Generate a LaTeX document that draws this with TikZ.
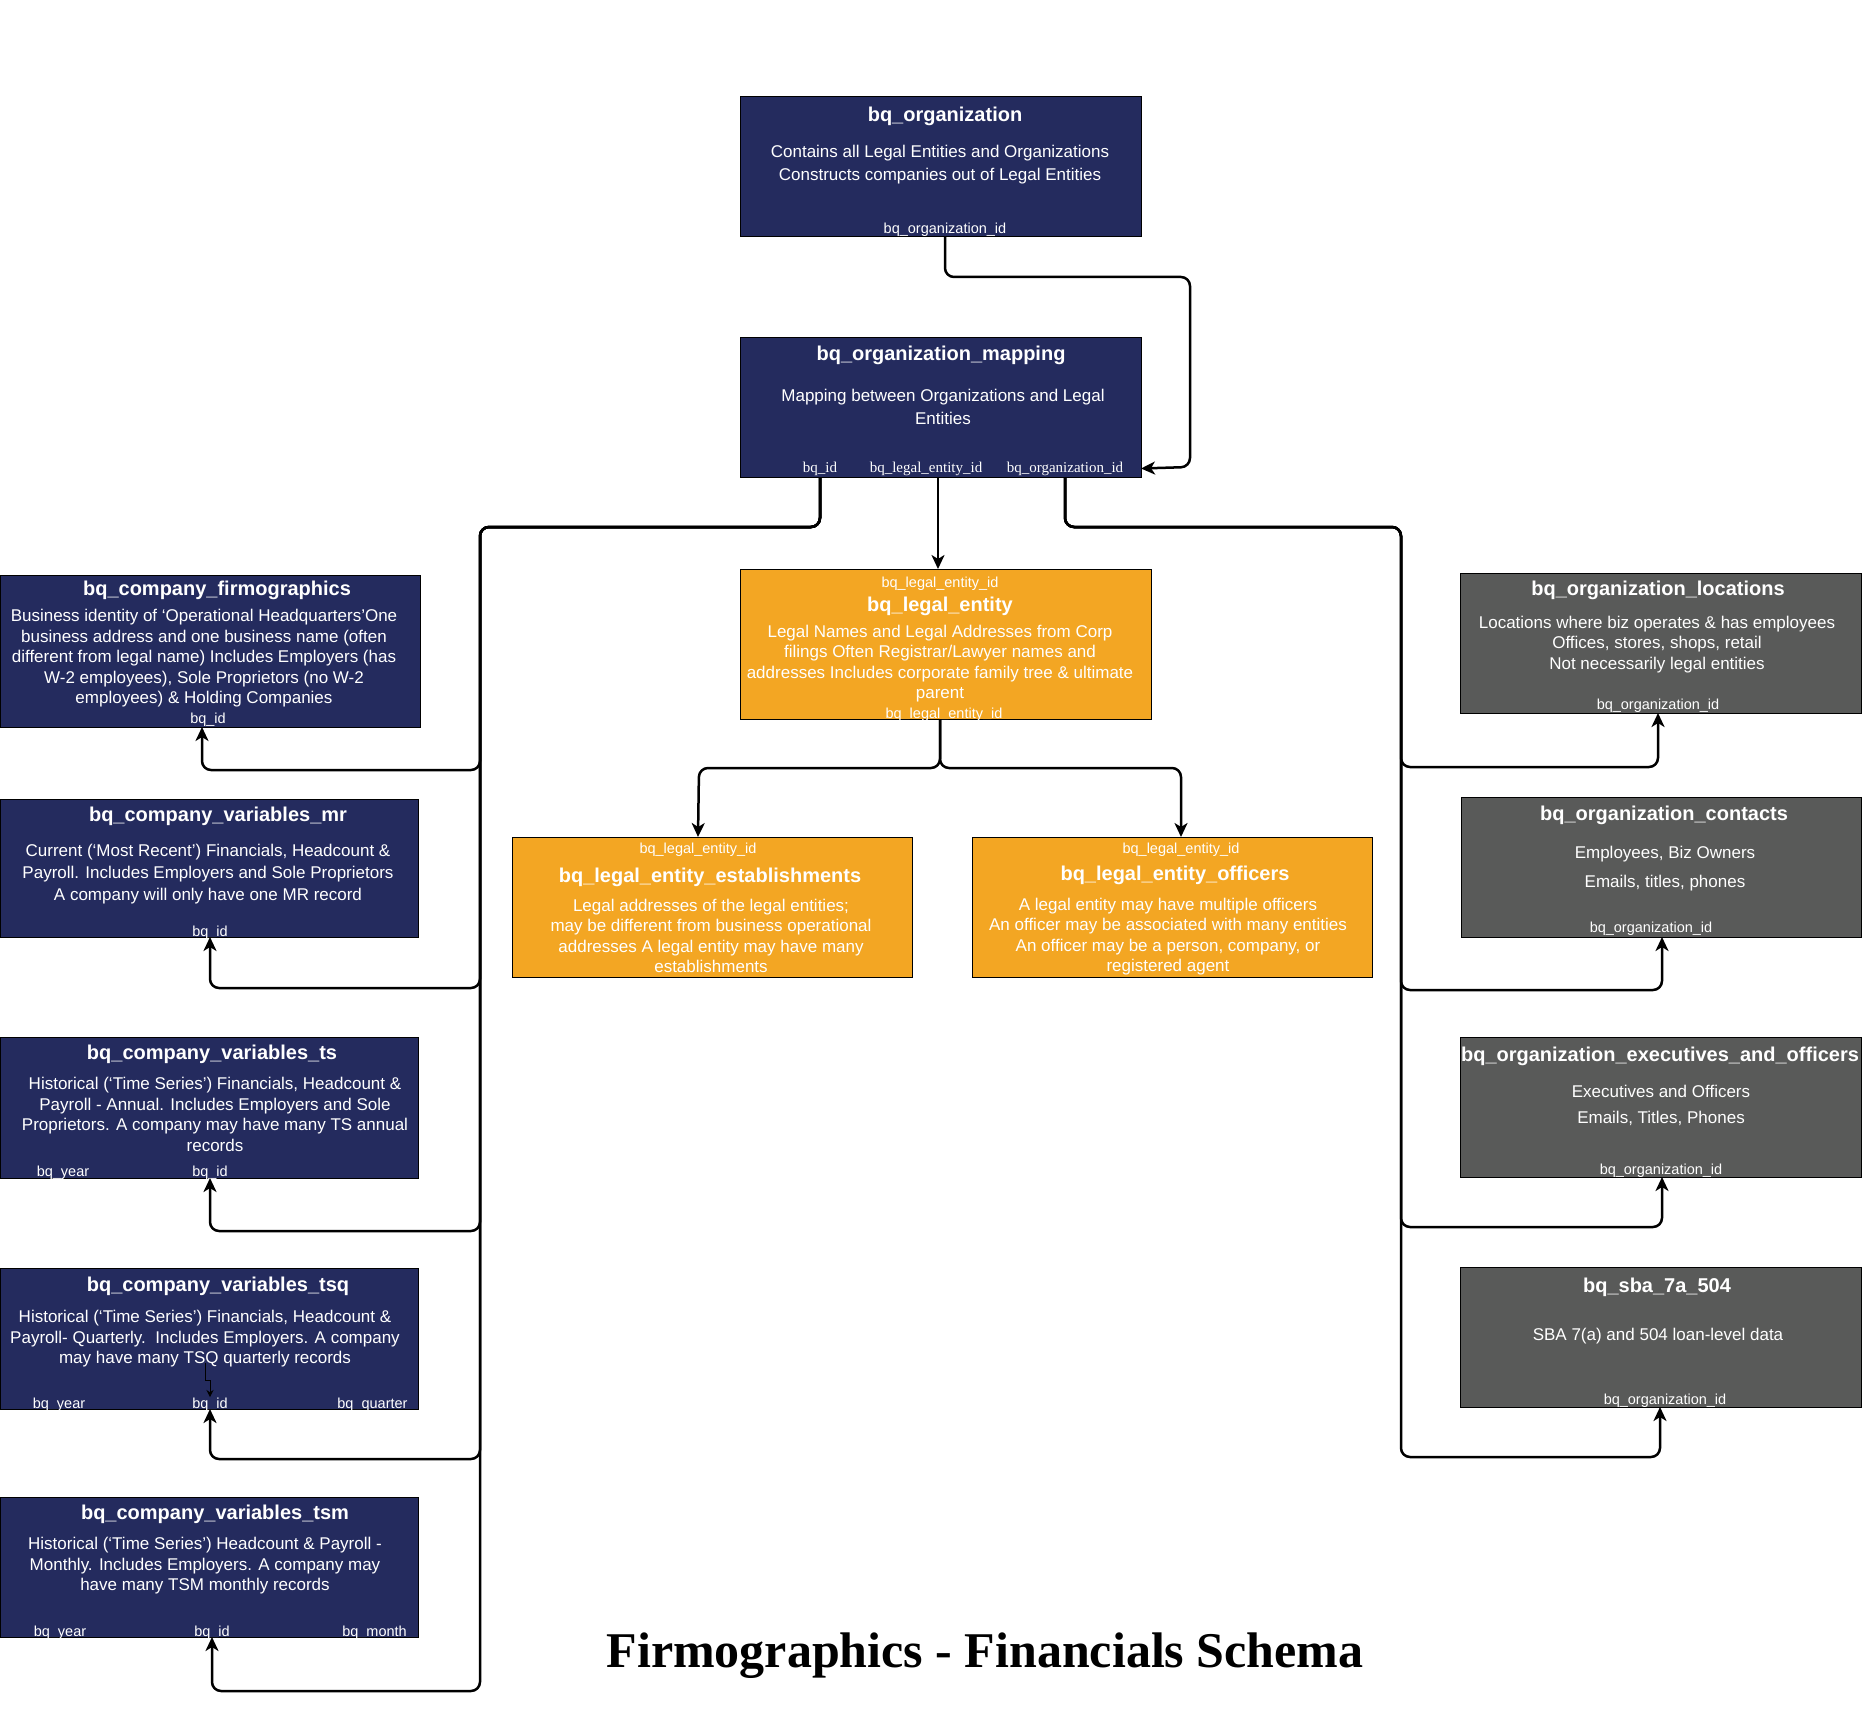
\documentclass[tikz,border=0pt]{standalone}
\usepackage{fontspec}
\setmainfont{Liberation Sans}
\newfontfamily\serifx{Liberation Serif}
\usetikzlibrary{arrows.meta}
\definecolor{navy}{RGB}{36,43,94}
\definecolor{amber}{RGB}{243,166,35}
\definecolor{slate}{RGB}{89,90,89}
\begin{document}
\begin{tikzpicture}[x=1pt,y=-1pt,
  tbl/.style={draw=black, line width=1pt, inner sep=0pt, outer sep=0pt, anchor=north west},
  navybox/.style={tbl, fill=navy},
  amberbox/.style={tbl, fill=amber},
  slatebox/.style={tbl, fill=slate},
  ttl/.style={text=white, font=\bfseries\fontsize{20}{24}\selectfont, inner sep=0pt, text height=15pt, text depth=3pt},
  dsc/.style={text=white, font=\fontsize{17}{20.5}\selectfont, align=center, inner sep=0pt},
  fld/.style={text=white, font=\fontsize{14.5}{17}\selectfont, inner sep=0pt, text height=10.5pt, text depth=3pt},
  sfld/.style={text=white, font=\serifx\fontsize{15}{17}\selectfont, inner sep=0pt, text height=10.5pt, text depth=3pt},
  link/.style={draw=black, line width=2.5pt, rounded corners=9pt, line join=round, -{Stealth[length=14pt,width=13pt,inset=4pt]}},
]
\useasboundingbox (0,0) rectangle (1865,1728);

% ---------------- boxes ----------------
\node[navybox, minimum width=401pt, minimum height=140pt] (org) at (740,97) {};
\node[navybox, minimum width=401pt, minimum height=140pt] (map) at (740,337) {};
\node[amberbox, minimum width=411pt, minimum height=150pt] (le) at (740,569) {};
\node[amberbox, minimum width=400pt, minimum height=140pt] (est) at (512,837) {};
\node[amberbox, minimum width=400pt, minimum height=140pt] (off) at (972,837) {};

\node[navybox, minimum width=420pt, minimum height=152pt] (firm) at (0.5,575) {};
\node[navybox, minimum width=418pt, minimum height=138pt] (mr) at (0.5,799) {};
\node[navybox, minimum width=418pt, minimum height=141pt] (ts) at (0.5,1037) {};
\node[navybox, minimum width=418pt, minimum height=141pt] (tsq) at (0.5,1268) {};
\node[navybox, minimum width=418pt, minimum height=140pt] (tsm) at (0.5,1497) {};

\node[slatebox, minimum width=401pt, minimum height=140pt] (loc) at (1460,573) {};
\node[slatebox, minimum width=400pt, minimum height=140pt] (con) at (1461,797) {};
\node[slatebox, minimum width=401pt, minimum height=140pt] (exec) at (1460,1037) {};
\node[slatebox, minimum width=401pt, minimum height=140pt] (sba) at (1460,1267) {};

% ---------------- texts ----------------
% bq_organization
\node[ttl] (orgt) at (945,115.5) {bq\_organization};
\node[dsc, font=\fontsize{17}{23}\selectfont] (orgd) at (940,165) {Contains all Legal Entities and Organizations\\Constructs companies out of Legal Entities};
\node[fld] (orgf) at (945,229.5) {bq\_organization\_id};

% mapping
\node[ttl] (mapt) at (941,354.5) {bq\_organization\_mapping};
\node[dsc, font=\fontsize{17}{23}\selectfont] (mapd) at (943,407) {Mapping between Organizations and Legal\\Entities};
\node[sfld] (mapf1) at (820,468.5) {bq\_id};
\node[sfld] (mapf2) at (926,468.5) {bq\_legal\_entity\_id};
\node[sfld] (mapf3) at (1065,468.5) {bq\_organization\_id};

% legal entity
\node[fld] (lef1) at (940,583.5) {bq\_legal\_entity\_id};
\node[ttl] (let) at (940,605.5) {bq\_legal\_entity};
\node[dsc] (led) at (940,663.5) {Legal Names and Legal Addresses from Corp\\filings Often Registrar/Lawyer names and\\addresses Includes corporate family tree \& ultimate\\parent};
\node[fld] (lef2) at (944,714.5) {bq\_legal\_entity\_id};

% establishments
\node[fld] (estf) at (698,849.5) {bq\_legal\_entity\_id};
\node[ttl] (estt) at (710,876.5) {bq\_legal\_entity\_establishments};
\node[dsc] (estd) at (711,935.8) {Legal addresses of the legal entities;\\may be different from business operational\\addresses A legal entity may have many\\establishments};

% officers
\node[fld] (offf) at (1181,849.5) {bq\_legal\_entity\_id};
\node[ttl] (offt) at (1175,874.5) {bq\_legal\_entity\_officers};
\node[dsc] (offd) at (1168,936.5) {A legal entity may have multiple officers\\An officer may be associated with many entities\\An officer may be a person, company, or\\registered agent};

% firmographics
\node[ttl] (firmt) at (217,589.5) {bq\_company\_firmographics};
\node[dsc] (firmd) at (204,658.4) {Business identity of ‘Operational Headquarters’One\\business address and one business name (often\\different from legal name) Includes Employers (has\\W-2 employees), Sole Proprietors (no W-2\\employees) \& Holding Companies};
\node[fld] (firmf) at (208,719.5) {bq\_id};

% mr
\node[ttl] (mrt) at (218,815.5) {bq\_company\_variables\_mr};
\node[dsc, font=\fontsize{17}{22}\selectfont] (mrd) at (208,873.8) {Current (‘Most Recent’) Financials, Headcount \&\\Payroll. Includes Employers and Sole Proprietors\\A company will only have one MR record};
\node[fld] (mrf) at (210,932.5) {bq\_id};

% ts
\node[ttl] (tst) at (212,1053.5) {bq\_company\_variables\_ts};
\node[dsc] (tsd) at (215,1114.5) {Historical (‘Time Series’) Financials, Headcount \&\\Payroll - Annual. Includes Employers and Sole\\Proprietors. A company may have many TS annual\\records};
\node[fld] (tsf1) at (63,1172.5) {bq\_year};
\node[fld] (tsf2) at (210,1173) {bq\_id};

% tsq
\node[ttl] (tsqt) at (218,1285.5) {bq\_company\_variables\_tsq};
\node[dsc] (tsqd) at (205,1339) {Historical (‘Time Series’) Financials, Headcount \&\\Payroll- Quarterly.\ \ Includes Employers. A company\\may have many TSQ quarterly records};
\node[fld] (tsqf1) at (59,1405) {bq\_year};
\node[fld] (tsqf2) at (210,1405) {bq\_id};
\node[fld] (tsqf3) at (372.5,1405) {bq\_quarter};

% tsm
\node[ttl] (tsmt) at (215,1513.5) {bq\_company\_variables\_tsm};
\node[dsc] (tsmd) at (205,1566) {Historical (‘Time Series’) Headcount \& Payroll -\\Monthly. Includes Employers. A company may\\have many TSM monthly records};
\node[fld] (tsmf1) at (60,1632.5) {bq\_year};
\node[fld] (tsmf2) at (212,1632.5) {bq\_id};
\node[fld] (tsmf3) at (374.5,1632.5) {bq\_month};

% locations
\node[ttl] (loct) at (1658,589.5) {bq\_organization\_locations};
\node[dsc] (locd) at (1657,644.5) {Locations where biz operates \& has employees\\Offices, stores, shops, retail\\Not necessarily legal entities};
\node[fld] (locf) at (1658,705.5) {bq\_organization\_id};

% contacts
\node[ttl] (cont) at (1664,814.5) {bq\_organization\_contacts};
\node[dsc, font=\fontsize{17}{29}\selectfont] (cond) at (1665,868.3) {Employees, Biz Owners\\Emails, titles, phones};
\node[fld] (conf) at (1651,928.5) {bq\_organization\_id};

% executives
\node[ttl] (exect) at (1660,1055.5) {bq\_organization\_executives\_and\_officers};
\node[dsc, font=\fontsize{17}{26}\selectfont] (execd) at (1661,1105.2) {Executives and Officers\\Emails, Titles, Phones};
\node[fld] (execf) at (1661,1170.5) {bq\_organization\_id};

% sba
\node[ttl] (sbat) at (1657,1286.5) {bq\_sba\_7a\_504};
\node[dsc] (sbad) at (1658,1336.5) {SBA 7(a) and 504 loan-level data};
\node[fld] (sbaf) at (1665,1400.5) {bq\_organization\_id};

% title
\node[font=\serifx\bfseries\fontsize{50}{60}\selectfont, anchor=base, inner sep=0pt] (title) at (985,1667.5) {Firmographics - Financials Schema};

% ---------------- connectors ----------------
% organization -> mapping
\draw[link] (orgf.south |- org.south) -- (945,277) -- (1190,277) -- (1190,467) -- (map.east |- mapf3);

% mapping -> legal entity
\draw[link] (938,477) -- (938,569);

% legal entity -> establishments / officers
\draw[link] (940,719) -- (940,768) -- (699,768) -- (estf.north |- est.north);
\draw[link] (940,719) -- (940,768) -- (1181,768) -- (offf.north |- off.north);

% mapping bq_id -> company tables
\draw[link] (mapf1.south |- map.south) -- (820,527) -- (480,527) -- (480,770) -- (202,770) -- (202,727);
\draw[link] (mapf1.south |- map.south) -- (820,527) -- (480,527) -- (480,988) -- (210,988) -- (mrf.south |- mr.south);
\draw[link] (mapf1.south |- map.south) -- (820,527) -- (480,527) -- (480,1231) -- (210,1231) -- (tsf2.south |- ts.south);
\draw[link] (mapf1.south |- map.south) -- (820,527) -- (480,527) -- (480,1459) -- (210,1459) -- (tsqf2.south |- tsq.south);
\draw[link] (mapf1.south |- map.south) -- (820,527) -- (480,527) -- (480,1691) -- (212,1691) -- (tsmf2.south |- tsm.south);

% mapping bq_organization_id -> organization tables
\draw[link] (mapf3.south |- map.south) -- (1065,527) -- (1401,527) -- (1401,767) -- (1658,767) -- (locf.south |- loc.south);
\draw[link] (mapf3.south |- map.south) -- (1065,527) -- (1401,527) -- (1401,990) -- (1662,990) -- (1662,937);
\draw[link] (mapf3.south |- map.south) -- (1065,527) -- (1401,527) -- (1401,1227) -- (1662,1227) -- (1662,1177);
\draw[link] (mapf3.south |- map.south) -- (1065,527) -- (1401,527) -- (1401,1457) -- (1660,1457) -- (1660,1407);

% small stray connector inside tsq
\coordinate (tsqs) at (205,1363);
\draw[line width=1pt, -{Stealth[length=7pt,width=7pt]}] (tsqs) -- (205,1380) -- (210,1380) -- (210,1397);
\end{tikzpicture}
\end{document}
